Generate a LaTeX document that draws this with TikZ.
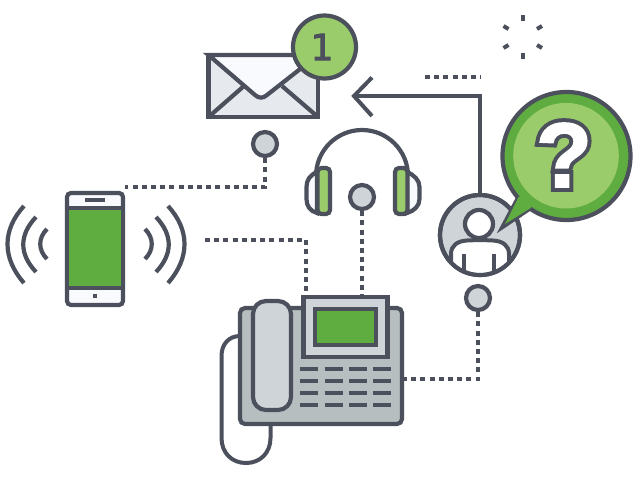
\documentclass[tikz,border=0pt]{standalone}
\usepackage{fontspec}
\setmainfont{DejaVu Sans}
\newfontfamily\qfont{Liberation Sans Bold}
\definecolor{ink}{HTML}{4B505C}
\definecolor{leaf}{HTML}{9BCC6B}
\definecolor{moss}{HTML}{5FAD41}
\definecolor{mist}{HTML}{CFD4D8}
\definecolor{slate}{HTML}{B6BEBF}
\definecolor{pale}{HTML}{E6E9ED}
\definecolor{snow}{HTML}{F8FAFE}
\tikzset{
  lin/.style={draw=ink,line width=4.2pt,line join=miter},
  thin lin/.style={draw=ink,line width=4pt,line join=miter},
  dots/.style={draw=ink,line width=4pt,dash pattern=on 5pt off 4.2pt},
  pinball/.style={circle,draw=ink,line width=4.2pt,fill=mist,minimum size=24pt,inner sep=0pt},
  keybar/.style={draw=ink,line width=4.2pt},
  wave/.style={draw=ink,line width=4.2pt}
}
\begin{document}
\begin{tikzpicture}[x=1pt,y=-1pt]
\useasboundingbox (0,0) rectangle (640,480);
% pins
\node[pinball] (mailpin) at (265,144) {};
\node[pinball] (headpin) at (362,197) {};
\node[pinball] (userpin) at (478,298) {};
% free ends
\coordinate (mobilecorner) at (125,187);
\coordinate (mobileline) at (205,240);
\coordinate (deskleft) at (306,297);
\coordinate (deskmid) at (362,297);
\coordinate (deskright) at (403,379);
\coordinate (dashstart) at (425,77);
\coordinate (dashend) at (481,77);
% dotted connectors
\draw[dots] (mailpin.south) |- (mobilecorner);
\draw[dots] (mobileline) -| (deskleft);
\draw[dots] (headpin.south) -- (deskmid);
\draw[dots] (userpin.south) |- (deskright);
\draw[dots] (dashstart) -- (dashend);
% envelope
\path[lin,fill=pale] (208.5,55) rectangle (318,117);
\path[lin,fill=snow] (208.5,55) -- (255,95) .. controls (259,98.5) and (263,98.5) .. (267,95) -- (318,55) -- cycle;
\draw[lin] (208.5,117) -- (244,86);
\draw[lin] (282,86) -- (318,117);
% badge
\node[circle,draw=ink,line width=4.2pt,fill=leaf,minimum size=63pt,inner sep=0pt] (badge) at (324.5,47) {};
\node[text=ink,font=\fontsize{36}{36}\selectfont,inner sep=0pt] (badgetext) at (322,47) {\special{pdf:code 2 Tr 0.294 0.314 0.361 rg 0.294 0.314 0.361 RG 0.9 w}1\special{pdf:code 0 Tr}};
% arrow
\coordinate (arrowtip) at (354,96);
\coordinate (arrowbend) at (480,96);
% headset
\draw[lin] (316,172) -- (316,176) arc[start angle=180,end angle=360,radius=46] -- (408,172);
\path[lin,fill=snow] (317,172) .. controls (310,175) and (306.5,180) .. (306.5,187) -- (306.5,199) .. controls (306.5,206) and (310,211) .. (317,213) -- cycle;
\path[lin,fill=snow] (407,172) .. controls (414,175) and (419.5,180) .. (419.5,187) -- (419.5,199) .. controls (419.5,206) and (414,211) .. (407,213) -- cycle;
\path[lin,fill=leaf,rounded corners=4pt] (317.5,168) rectangle (330,214);
\path[lin,fill=leaf,rounded corners=4pt] (395,168) rectangle (407.5,214);
% desk phone
\draw[thin lin] (240,336) .. controls (229,336) and (221.5,344) .. (221.5,356) -- (221.5,438) .. controls (221.5,453) and (232,463) .. (246,463) .. controls (260,463) and (270.5,453) .. (270.5,438) -- (270.5,410);
\path[lin,fill=slate,rounded corners=5pt] (240,308) rectangle (402,424);
\path[lin,fill=mist] (303.5,297) rectangle (387.5,357);
\path[lin,fill=moss] (315,309) rectangle (376,345);
\path[lin,fill=mist,rounded corners=13pt] (253,301) rectangle (291,410);
\foreach \yy in {369,381,393,405}{
  \foreach \xx in {300,324.5,349,373}{
    \draw[keybar] (\xx,\yy) -- ++(18,0);
  }
}
% arrow lines
\draw[thin lin] (arrowtip) -- (arrowbend) -- (480,196);
\draw[thin lin] (372,77.5) -- (arrowtip) -- (372,116);
% user
\node[circle,draw=ink,line width=4.2pt,fill=mist,minimum size=80pt,inner sep=0pt] (user) at (480,235) {};
\begin{scope}
\clip (480,235) circle (40pt);
\path[draw=ink,line width=4pt,fill=white] (451,285) -- (451,254) .. controls (451,245) and (458,241) .. (467,240.5) .. controls (475,240) and (485,240) .. (493,240.5) .. controls (502,241) and (509,245) .. (509,254) -- (509,285) -- cycle;
\draw[thin lin] (464,254) -- (464,285);
\draw[thin lin] (494,254) -- (494,285);
\end{scope}
\draw[draw=ink,line width=4.2pt] (480,235) circle (40pt);
\path[lin,fill=white] (479,224) circle (14pt);
% bubble
\path[lin,fill=moss,miter limit=10] (518.5,197) -- (502.5,227) -- (530,208.5) -- cycle;
\node[circle,draw=ink,line width=4.2pt,fill=moss,minimum size=128pt,inner sep=0pt] (bubble) at (566.5,156) {};
\fill[moss] (518.5,197) -- (505,224) -- (530,208.5) -- (545,190) -- cycle;
\fill[leaf] (566,155.7) circle (52.8pt);
\node[inner sep=0pt,font=\fontsize{92}{92}\qfont] (question) at (564,155) {\rlap{\special{pdf:code 2 Tr 0.294 0.314 0.361 rg 0.294 0.314 0.361 RG 9.5 w}?}\special{pdf:code 2 Tr 1 1 1 rg 1 1 1 RG 1.5 w}?\special{pdf:code 0 Tr}};
% burst
\draw[thin lin] (523,15) -- (523,21);
\draw[thin lin] (523,53) -- (523,59);
\draw[thin lin] (503.5,26) -- (508.5,29);
\draw[thin lin] (542,26) -- (537,29);
\draw[thin lin] (503.5,48) -- (508.5,45);
\draw[thin lin] (542,48) -- (537,45);
% mobile
\path[lin,fill=snow,rounded corners=4pt] (67,193) rectangle (123,305);
\path[draw=ink,line width=4.2pt,fill=moss] (67,208) rectangle (123,288);
\draw[lin] (85,200) -- (105,200);
\fill[ink] (93,294) rectangle (97,298);
% waves
\draw[wave] (24,206) .. controls (2,230) and (2,258) .. (24,283);
\draw[wave] (36,217) .. controls (19,235) and (19,254) .. (36,272);
\draw[wave] (47,229) .. controls (38,238) and (38,250) .. (47,259);
\draw[wave] (168,206) .. controls (190,230) and (190,258) .. (168,283);
\draw[wave] (156,217) .. controls (173,235) and (173,254) .. (156,272);
\draw[wave] (145,229) .. controls (154,238) and (154,250) .. (145,259);
\end{tikzpicture}
\end{document}
